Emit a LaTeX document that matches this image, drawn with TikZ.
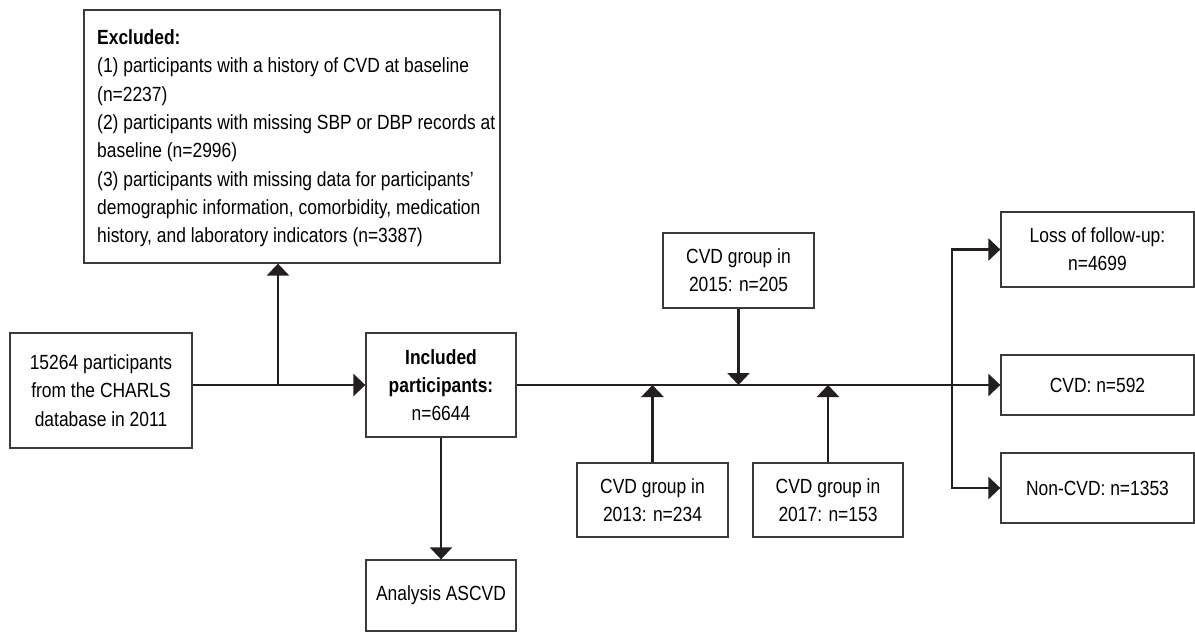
\documentclass[tikz,border=0pt]{standalone}
\usepackage{fontspec}
\setmainfont[FakeStretch=0.85]{Liberation Sans}
\usetikzlibrary{arrows.meta,calc}
\definecolor{linec}{HTML}{231F20}
\definecolor{boxc}{HTML}{3A3A3A}
\begin{document}
\begin{tikzpicture}[x=1pt,y=-1pt,
  box/.style={draw=boxc,line width=1.3pt,inner sep=0pt,align=center,
    font=\fontsize{20.5}{28.3}\selectfont,text=black},
  conn/.style={draw=linec,line width=2.8pt},
  arr/.style={conn,-{Triangle[length=12pt,width=22pt]}}]
\useasboundingbox[fill=white] (0,0) rectangle (1195,632);
% boxes
\node[box,minimum width=416pt,minimum height=253pt] (excl) at (292,136.5) {};
\node[anchor=north west,inner sep=0pt,align=left,font=\fontsize{20.5}{28.3}\selectfont] (excltxt) at (97,29.5)
 {\textbf{Excluded:}\\
 (1) participants with a history of CVD at baseline\\
 (n=2237)\\
 (2) participants with missing SBP or DBP records at\\
 baseline (n=2996)\\
 (3) participants with missing data for participants'\\
 demographic information, comorbidity, medication\\
 history, and laboratory indicators (n=3387)};
\node[box,minimum width=182pt,minimum height=115pt] (start) at (101,390.5)
 {15264 participants\\from the CHARLS\\database in 2011};
\node[box,minimum width=150pt,minimum height=104pt] (incl) at (441,385)
 {\textbf{Included}\\\textbf{participants:}\\n=6644};
\node[box,minimum width=150pt,minimum height=71pt] (anal) at (441,595.5)
 {Analysis ASCVD};
\node[box,minimum width=151pt,minimum height=75pt] (g15) at (738.5,270.5)
 {CVD group in\\2015: n=205};
\node[box,minimum width=151pt,minimum height=74pt] (g13) at (652.5,500)
 {CVD group in\\2013: n=234};
\node[box,minimum width=150pt,minimum height=74pt] (g17) at (828,500)
 {CVD group in\\2017: n=153};
\node[box,minimum width=193pt,minimum height=75pt] (loss) at (1097.5,249.5)
 {Loss of follow-up:\\n=4699};
\node[box,minimum width=193pt,minimum height=60pt] (cvd) at (1097.5,385)
 {CVD: n=592};
\node[box,minimum width=193pt,minimum height=70pt] (ncvd) at (1097.5,488)
 {Non-CVD: n=1353};
% connectors
\coordinate (j1) at (278,385);
\coordinate (br) at (952,385);
\draw[arr] (start.east |- incl.west) -- (incl.west);
\draw[arr] (j1) -- (j1 |- excl.south);
\draw[arr] (incl.east) -- (cvd.west);
\draw[arr] (g15.south) -- (g15.south |- br);
\draw[arr] (g13.north) -- (g13.north |- br);
\draw[arr] (g17.north) -- (g17.north |- br);
\draw[arr] (br) |- (loss.west);
\draw[arr] (br) |- (ncvd.west);
\draw[arr] (incl.south) -- (anal.north);
\end{tikzpicture}
\end{document}
